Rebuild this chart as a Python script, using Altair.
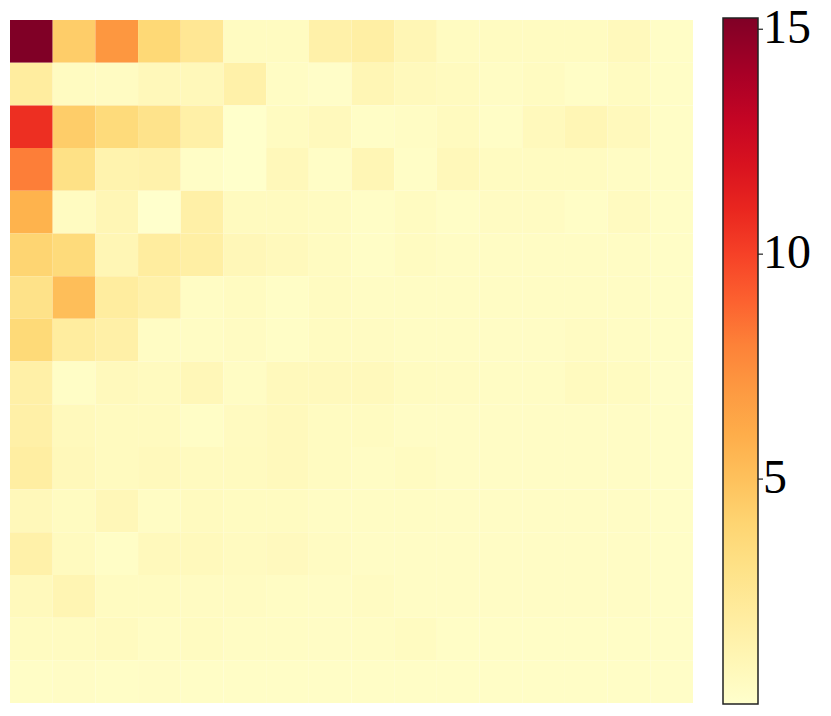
import altair as alt
import pandas as pd

rows = [
    [15.25, 4.42, 7.13, 3.80, 2.45, 0.47, 0.47, 1.51, 1.72, 0.99, 0.47, 0.47, 0.47, 0.47, 0.68, 0.26],
    [1.93, 0.47, 0.42, 0.78, 0.78, 1.51, 0.36, 0.16, 0.99, 0.68, 0.57, 0.36, 0.47, 0.26, 0.47, 0.26],
    [10.67, 4.42, 3.59, 2.86, 1.61, 0.05, 0.47, 0.68, 0.26, 0.36, 0.57, 0.26, 0.68, 0.99, 0.68, 0.26],
    [8.07, 3.07, 1.30, 1.41, 0.26, 0.05, 0.78, 0.26, 0.99, 0.26, 0.78, 0.47, 0.47, 0.47, 0.36, 0.26],
    [5.67, 0.47, 0.99, 0.00, 1.61, 0.57, 0.57, 0.47, 0.26, 0.47, 0.26, 0.42, 0.42, 0.26, 0.52, 0.26],
    [4.01, 3.59, 0.99, 1.93, 1.72, 0.88, 0.68, 0.47, 0.26, 0.47, 0.36, 0.36, 0.36, 0.36, 0.36, 0.26],
    [2.97, 5.15, 1.93, 1.51, 0.36, 0.47, 0.26, 0.47, 0.36, 0.36, 0.36, 0.36, 0.36, 0.36, 0.36, 0.26],
    [3.70, 1.93, 1.61, 0.36, 0.36, 0.42, 0.26, 0.47, 0.42, 0.36, 0.36, 0.31, 0.31, 0.42, 0.36, 0.26],
    [1.61, 0.26, 0.68, 0.57, 0.88, 0.36, 0.68, 0.68, 0.68, 0.47, 0.42, 0.36, 0.36, 0.57, 0.47, 0.16],
    [1.61, 0.68, 0.57, 0.57, 0.26, 0.52, 0.68, 0.47, 0.47, 0.31, 0.31, 0.31, 0.31, 0.31, 0.31, 0.21],
    [1.82, 0.78, 0.57, 0.68, 0.57, 0.57, 0.68, 0.47, 0.36, 0.47, 0.31, 0.31, 0.31, 0.31, 0.31, 0.21],
    [0.78, 0.47, 0.88, 0.36, 0.57, 0.47, 0.47, 0.36, 0.36, 0.36, 0.31, 0.31, 0.31, 0.31, 0.31, 0.21],
    [1.51, 0.57, 0.26, 0.68, 0.68, 0.52, 0.62, 0.42, 0.31, 0.31, 0.31, 0.31, 0.31, 0.31, 0.31, 0.21],
    [0.68, 1.09, 0.47, 0.47, 0.42, 0.42, 0.36, 0.31, 0.42, 0.31, 0.31, 0.31, 0.31, 0.31, 0.31, 0.21],
    [0.47, 0.47, 0.57, 0.36, 0.47, 0.36, 0.36, 0.31, 0.36, 0.47, 0.26, 0.26, 0.26, 0.26, 0.26, 0.21],
    [0.26, 0.31, 0.26, 0.31, 0.26, 0.26, 0.26, 0.26, 0.26, 0.26, 0.26, 0.26, 0.26, 0.26, 0.26, 0.21],
]

ylorrd = ["#ffffcc", "#ffeda0", "#fed976", "#feb24c", "#fd8d3c",
          "#fc4e2a", "#e31a1c", "#bd0026", "#800026"]
legend_ticks = [5, 10, 15]

records = []
for r, row in enumerate(rows):
    for c, v in enumerate(row):
        records.append({"row": r, "col": c, "value": v})
df = pd.DataFrame(records)
vmin = min(min(r) for r in rows)
vmax = max(max(r) for r in rows)

GRAD_X = 713
GRAD_Y = -2
GRAD_LEN = 686
GRAD_W = 35

heat = alt.Chart(df).mark_rect(stroke=None).encode(
    x=alt.X("col:O", axis=None, scale=alt.Scale(paddingInner=0, paddingOuter=0)),
    y=alt.Y("row:O", axis=None, scale=alt.Scale(paddingInner=0, paddingOuter=0)),
    color=alt.Color(
        "value:Q",
        scale=alt.Scale(range=ylorrd, interpolate="rgb", zero=False, nice=False),
        legend=alt.Legend(
            title=None,
            orient="none",
            legendX=GRAD_X,
            legendY=GRAD_Y,
            direction="vertical",
            padding=0,
            values=legend_ticks,
            gradientLength=GRAD_LEN,
            gradientThickness=GRAD_W,
            gradientStrokeColor="#222222",
            gradientStrokeWidth=1.5,
            labelFont="Liberation Serif",
            labelFontSize=48,
            labelColor="black",
            labelOffset=5,
        ),
    ),
)

ticks = alt.Chart(pd.DataFrame({"t": legend_ticks})).mark_rule(
    color="#222222", strokeWidth=1.2
).encode(
    y=alt.Y("t:Q", axis=None,
            scale=alt.Scale(domain=[vmin, vmax], range=[GRAD_Y + GRAD_LEN, GRAD_Y], zero=False, nice=False)),
    x=alt.value(GRAD_X + GRAD_W),
    x2=alt.value(GRAD_X + GRAD_W + 5),
)

chart = alt.layer(heat, ticks).resolve_scale(y="independent").properties(
    width=683,
    height=683,
    padding={"left": 2, "top": 12, "right": 130, "bottom": 5},
    autosize=alt.AutoSizeParams(type="none"),
).configure_view(strokeWidth=0)

chart.save("out.html", embed_options={"renderer": "svg", "actions": False})
